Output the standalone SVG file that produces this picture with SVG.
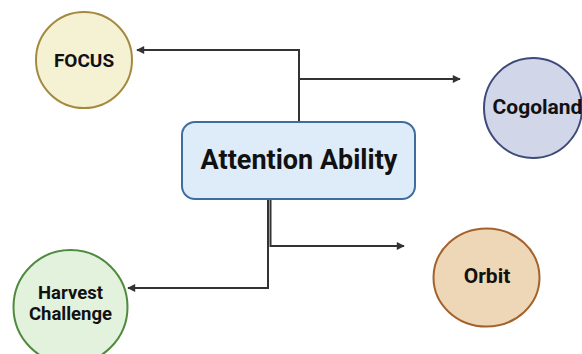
<svg xmlns="http://www.w3.org/2000/svg" width="582" height="354" viewBox="0 0 582 354">
  <style>
    .label { font-family: Roboto, "Liberation Sans", Arial, sans-serif; font-weight: bold; fill: #111; text-anchor: middle; dominant-baseline: central; }
    .wire { fill: none; stroke: #333; stroke-width: 2; }
  </style>
  <defs>
    <marker id="arrow" viewBox="0 0 10 10" refX="9" refY="5" markerWidth="9" markerHeight="8" orient="auto" markerUnits="userSpaceOnUse">
      <path d="M0,0 L10,5 L0,10 z" fill="#333"/>
    </marker>
  </defs>
  <rect width="582" height="354" fill="#ffffff"/>

  <g id="connectors">
    <path class="wire" d="M299,122 V50 H137" marker-end="url(#arrow)"/>
    <path class="wire" d="M299,79 H460" marker-end="url(#arrow)"/>
    <path class="wire" d="M268,199 V288 H128" marker-end="url(#arrow)"/>
    <path class="wire" d="M270.5,199 V246 H404" marker-end="url(#arrow)"/>
  </g>

  <g id="attention-ability">
    <rect x="182" y="122" width="233" height="77" rx="13" fill="#deebf8" stroke="#3f6e9e" stroke-width="2"/>
    <text class="label" x="299" y="160" font-size="27">Attention Ability</text>
  </g>

  <g id="focus">
    <circle cx="84" cy="60" r="48" fill="#f5f2d4" stroke="#a48a40" stroke-width="2"/>
    <text class="label" x="84" y="60" font-size="19">FOCUS</text>
  </g>

  <g id="cogoland">
    <ellipse cx="533" cy="108" rx="49" ry="50" fill="#d2d6e9" stroke="#3d4a7a" stroke-width="2"/>
    <text class="label" x="537.5" y="107" font-size="21">Cogoland</text>
  </g>

  <g id="harvest-challenge">
    <circle cx="70.5" cy="307" r="57" fill="#e2f2dc" stroke="#4f8a3e" stroke-width="2"/>
    <text class="label" x="70.5" y="293" font-size="18.5">Harvest</text>
    <text class="label" x="70.5" y="314" font-size="18.5">Challenge</text>
  </g>

  <g id="orbit">
    <ellipse cx="486.5" cy="277.5" rx="53" ry="49" fill="#eed7b7" stroke="#a3622c" stroke-width="2"/>
    <text class="label" x="487" y="276" font-size="21">Orbit</text>
  </g>
</svg>
